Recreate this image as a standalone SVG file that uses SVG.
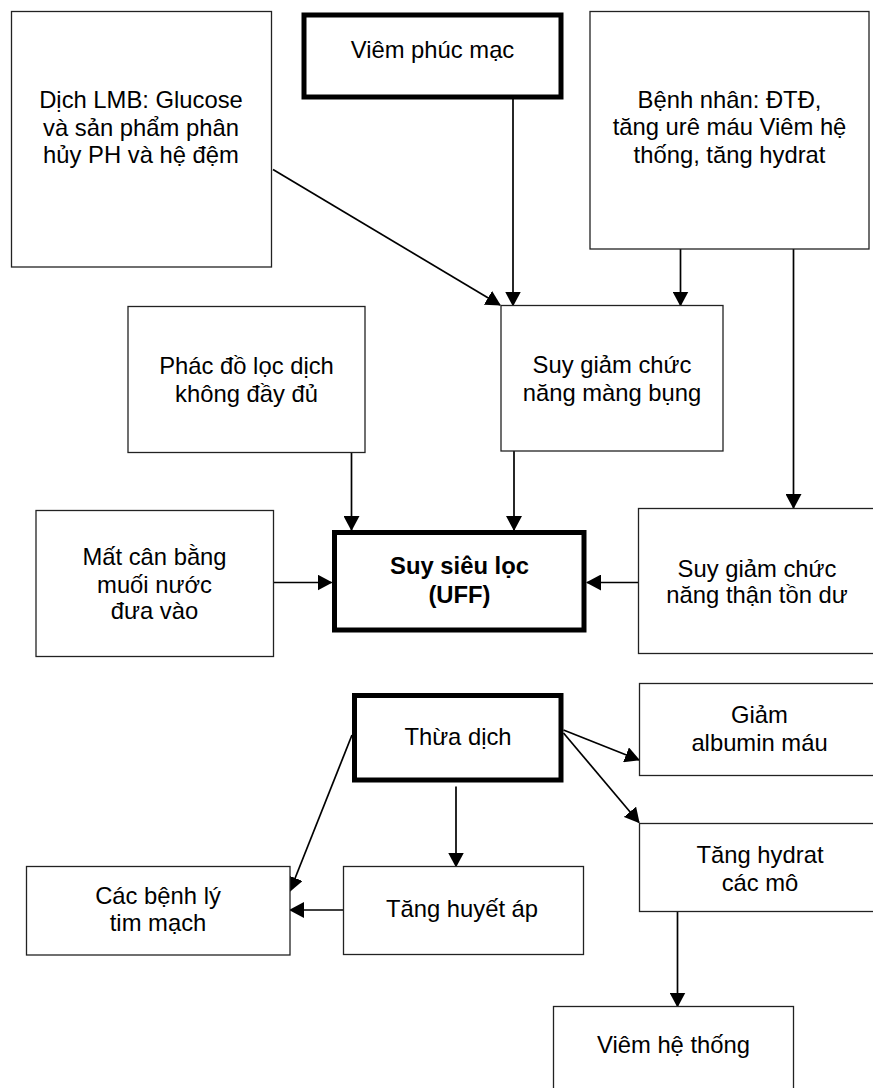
<svg xmlns="http://www.w3.org/2000/svg" width="873" height="1088" viewBox="0 0 873 1088">
  <style>
    .box { fill: #ffffff; stroke: #222222; stroke-width: 1.3; }
    .thick { fill: #ffffff; stroke: #000000; stroke-width: 5; }
    .lbl { font-family: "Liberation Sans", Arial, sans-serif; font-size: 23.8px; fill: #000000; text-anchor: middle; }
    .bold { font-weight: bold; }
    .conn { stroke: #000000; stroke-width: 1.7; fill: none; marker-end: url(#arrow); }
  </style>
  <defs>
    <marker id="arrow" markerUnits="userSpaceOnUse" markerWidth="15" markerHeight="16" refX="14" refY="8" orient="auto">
      <path d="M0,0 L15,8 L0,16 z" fill="#000000"/>
    </marker>
  </defs>
  <rect x="0" y="0" width="873" height="1088" fill="#ffffff"/>

  <g id="connectors">
    <line class="conn" x1="273" y1="169.5" x2="500" y2="305"/>
    <line class="conn" x1="513" y1="99" x2="513" y2="305.5"/>
    <line class="conn" x1="680.5" y1="249" x2="680.5" y2="305.5"/>
    <line class="conn" x1="793.5" y1="249" x2="793.5" y2="508"/>
    <line class="conn" x1="351.5" y1="452.5" x2="351.5" y2="530"/>
    <line class="conn" x1="514" y1="451" x2="514" y2="530"/>
    <line class="conn" x1="270" y1="582.5" x2="331.5" y2="582.5"/>
    <line class="conn" x1="638" y1="582.5" x2="587" y2="582.5"/>
    <line class="conn" x1="352" y1="735" x2="290" y2="891"/>
    <line class="conn" x1="456" y1="786.5" x2="456" y2="866.5"/>
    <line class="conn" x1="343" y1="910" x2="290" y2="910"/>
    <line class="conn" x1="563.5" y1="730" x2="639" y2="760"/>
    <line class="conn" x1="563.5" y1="733" x2="639" y2="822.5"/>
    <line class="conn" x1="677.5" y1="911.5" x2="677.5" y2="1006.5"/>
  </g>

  <g id="dich-lmb">
    <rect class="box" x="11.5" y="11.5" width="260" height="255.5"/>
    <text class="lbl" x="141" y="108">Dịch LMB: Glucose</text>
    <text class="lbl" x="141" y="136">và sản phẩm phân</text>
    <text class="lbl" x="141" y="163">hủy PH và hệ đệm</text>
  </g>

  <g id="viem-phuc-mac">
    <rect class="thick" x="304" y="15" width="257" height="82"/>
    <text class="lbl" x="432.5" y="58">Viêm phúc mạc</text>
  </g>

  <g id="benh-nhan">
    <rect class="box" x="590" y="11.5" width="279" height="237.5"/>
    <text class="lbl" x="729.5" y="107.5">Bệnh nhân: ĐTĐ,</text>
    <text class="lbl" x="729.5" y="135">tăng urê máu Viêm hệ</text>
    <text class="lbl" x="729.5" y="162.5">thống, tăng hydrat</text>
  </g>

  <g id="phac-do">
    <rect class="box" x="128" y="306.5" width="237" height="146"/>
    <text class="lbl" x="246.5" y="374">Phác đồ lọc dịch</text>
    <text class="lbl" x="246.5" y="401.5">không đầy đủ</text>
  </g>

  <g id="suy-giam-mang-bung">
    <rect class="box" x="501" y="305.5" width="222" height="145.5"/>
    <text class="lbl" x="612" y="373">Suy giảm chức</text>
    <text class="lbl" x="612" y="401">năng màng bụng</text>
  </g>

  <g id="mat-can-bang">
    <rect class="box" x="36" y="510.5" width="237.5" height="146"/>
    <text class="lbl" x="154.5" y="565">Mất cân bằng</text>
    <text class="lbl" x="154.5" y="592.5">muối nước</text>
    <text class="lbl" x="154.5" y="619">đưa vào</text>
  </g>

  <g id="uff">
    <rect class="thick" x="334.5" y="532.5" width="249.5" height="97.5"/>
    <text class="lbl bold" x="459.5" y="574">Suy siêu lọc</text>
    <text class="lbl bold" x="459.5" y="603">(UFF)</text>
  </g>

  <g id="suy-giam-than">
    <rect class="box" x="638.5" y="508.5" width="237" height="145"/>
    <text class="lbl" x="757" y="576.5">Suy giảm chức</text>
    <text class="lbl" x="757" y="603">năng thận tồn dư</text>
  </g>

  <g id="thua-dich">
    <rect class="thick" x="354.5" y="695.5" width="206.5" height="84.5"/>
    <text class="lbl" x="458" y="745">Thừa dịch</text>
  </g>

  <g id="giam-albumin">
    <rect class="box" x="639.5" y="683.5" width="240" height="92"/>
    <text class="lbl" x="759.5" y="723">Giảm</text>
    <text class="lbl" x="759.5" y="751">albumin máu</text>
  </g>

  <g id="tang-hydrat">
    <rect class="box" x="639.5" y="823.5" width="240" height="88"/>
    <text class="lbl" x="760" y="863">Tăng hydrat</text>
    <text class="lbl" x="760" y="890.5">các mô</text>
  </g>

  <g id="benh-ly-tim-mach">
    <rect class="box" x="26.5" y="866.5" width="263.5" height="88.5"/>
    <text class="lbl" x="158" y="904">Các bệnh lý</text>
    <text class="lbl" x="158" y="931">tim mạch</text>
  </g>

  <g id="tang-huyet-ap">
    <rect class="box" x="343.5" y="866.5" width="240" height="88"/>
    <text class="lbl" x="462" y="917">Tăng huyết áp</text>
  </g>

  <g id="viem-he-thong">
    <rect class="box" x="553.5" y="1006.5" width="240" height="100"/>
    <text class="lbl" x="673.5" y="1053">Viêm hệ thống</text>
  </g>
</svg>
